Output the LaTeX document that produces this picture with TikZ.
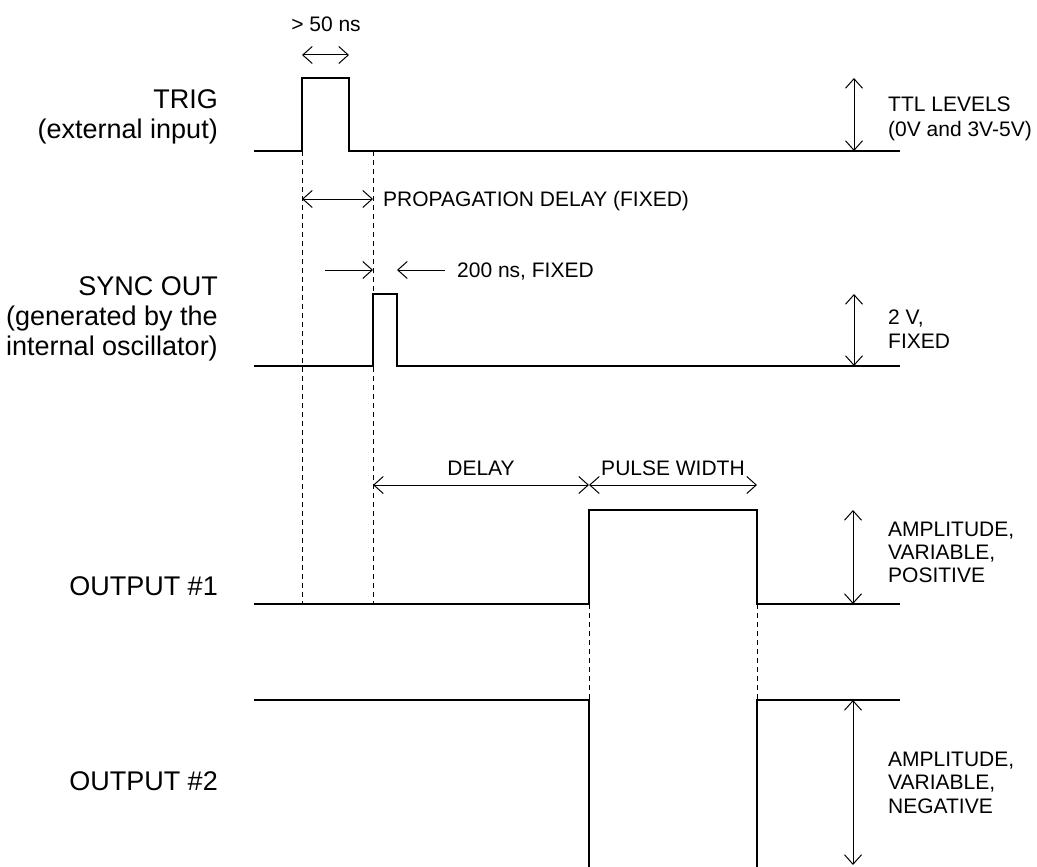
\documentclass[tikz,border=0pt]{standalone}
\usepackage{fontspec}
\setmainfont{Liberation Sans}
\usetikzlibrary{arrows.meta}
\begin{document}
\begin{tikzpicture}[x=1pt,y=-1pt,
  wave/.style={line width=1.1pt, line join=miter},
  guide/.style={line width=0.9pt, dash pattern=on 5pt off 4pt},
  tip/.tip={Straight Barb[length=9.5pt,width=17pt]},
  dimline/.style={line width=1pt, tip-tip},
  oneway/.style={line width=1pt, -tip},
  biglabel/.style={font=\fontsize{27}{31}\selectfont, anchor=base east, inner sep=0pt},
  smalllabel/.style={font=\fontsize{21}{24}\selectfont, anchor=base west, inner sep=0pt},
  midlabel/.style={font=\fontsize{21}{24}\selectfont, anchor=base, inner sep=0pt}]
\useasboundingbox (0,0) rectangle (1037,867);

% ---------- waveforms ----------
% TRIG
\coordinate (t0) at (254,151);
\coordinate (t1) at (302,151);
\coordinate (t2) at (302,78);
\coordinate (t3) at (349,78);
\coordinate (t4) at (349,151);
\coordinate (t5) at (900,151);
\draw[wave] (t0) -- (t1) -- (t2) -- (t3) -- (t4) -- (t5);
% SYNC OUT
\coordinate (s0) at (254,366);
\coordinate (s1) at (373,366);
\coordinate (s2) at (373,294);
\coordinate (s3) at (397,294);
\coordinate (s4) at (397,366);
\coordinate (s5) at (900,366);
\draw[wave] (s0) -- (s1) -- (s2) -- (s3) -- (s4) -- (s5);
% OUTPUT #1
\coordinate (a0) at (254,604);
\coordinate (a1) at (589,604);
\coordinate (a2) at (589,510);
\coordinate (a3) at (757,510);
\coordinate (a4) at (757,604);
\coordinate (a5) at (900,604);
\draw[wave] (a0) -- (a1) -- (a2) -- (a3) -- (a4) -- (a5);
% OUTPUT #2
\coordinate (b0) at (254,700);
\coordinate (b1) at (589,700);
\coordinate (b2) at (589,867);
\coordinate (b3) at (757,867);
\coordinate (b4) at (757,700);
\coordinate (b5) at (900,700);
\draw[wave] (b0) -- (b1) -- (b2);
\draw[wave] (b3) -- (b4) -- (b5);

% ---------- dashed guides ----------
\coordinate (g1b) at (302,604);
\coordinate (g2t) at (373,151);
\coordinate (g2b) at (373,604);
\draw[guide] (t1) -- (g1b);
\draw[guide] (g2t) -- (g2b);
\draw[guide] (a1) -- (b1);
\draw[guide] (a4) -- (b4);

% ---------- dimension arrows ----------
\coordinate (w1) at (302,55);
\coordinate (w2) at (349,55);
\draw[dimline] (w1) -- (w2);
\node[midlabel] (lw) at (326,32) {> 50 ns};

\coordinate (p1) at (302,199);
\coordinate (p2) at (373,199);
\draw[dimline] (p1) -- (p2);
\node[smalllabel] (lp) at (383,206) {PROPAGATION DELAY (FIXED)};

\coordinate (y1) at (325,270);
\coordinate (y2) at (373,270);
\coordinate (y3) at (445,270);
\coordinate (y4) at (397,270);
\draw[oneway] (y1) -- (y2);
\draw[oneway] (y3) -- (y4);
\node[smalllabel] (ly) at (457,277) {200 ns, FIXED};

\coordinate (d1) at (373,485);
\coordinate (d2) at (589,485);
\coordinate (d3) at (757,485);
\draw[dimline] (d1) -- (d2);
\draw[dimline] (d2) -- (d3);
\node[midlabel] (ld) at (481,475) {DELAY};
\node[midlabel] (lpw) at (673,475) {PULSE WIDTH};

% vertical amplitude arrows
\coordinate (v1t) at (854,78);
\coordinate (v1b) at (854,151);
\draw[dimline] (v1t) -- (v1b);
\coordinate (v2t) at (854,294);
\coordinate (v2b) at (854,366);
\draw[dimline] (v2t) -- (v2b);
\coordinate (v3t) at (853,510);
\coordinate (v3b) at (853,604);
\draw[dimline] (v3t) -- (v3b);
\coordinate (v4t) at (853,700);
\coordinate (v4b) at (853,865);
\draw[dimline] (v4t) -- (v4b);

% right texts
\node[smalllabel] (r1a) at (888,111) {TTL LEVELS};
\node[smalllabel] (r1b) at (888,136) {(0V and 3V-5V)};
\node[smalllabel] (r2a) at (888,324) {2 V,};
\node[smalllabel] (r2b) at (888,348) {FIXED};
\node[smalllabel] (r3a) at (888,536) {AMPLITUDE,};
\node[smalllabel] (r3b) at (888,559) {VARIABLE,};
\node[smalllabel] (r3c) at (888,582) {POSITIVE};
\node[smalllabel] (r4a) at (888,766) {AMPLITUDE,};
\node[smalllabel] (r4b) at (888,789) {VARIABLE,};
\node[smalllabel] (r4c) at (888,813) {NEGATIVE};

% left labels
\node[biglabel] (l1a) at (218,108) {TRIG};
\node[biglabel] (l1b) at (218,138) {(external input)};
\node[biglabel] (l2a) at (218,295) {SYNC OUT};
\node[biglabel] (l2b) at (218,325) {(generated by the};
\node[biglabel] (l2c) at (218,355) {internal oscillator)};
\node[biglabel] (l3) at (218,595) {OUTPUT \#1};
\node[biglabel] (l4) at (218,790) {OUTPUT \#2};
\end{tikzpicture}
\end{document}
